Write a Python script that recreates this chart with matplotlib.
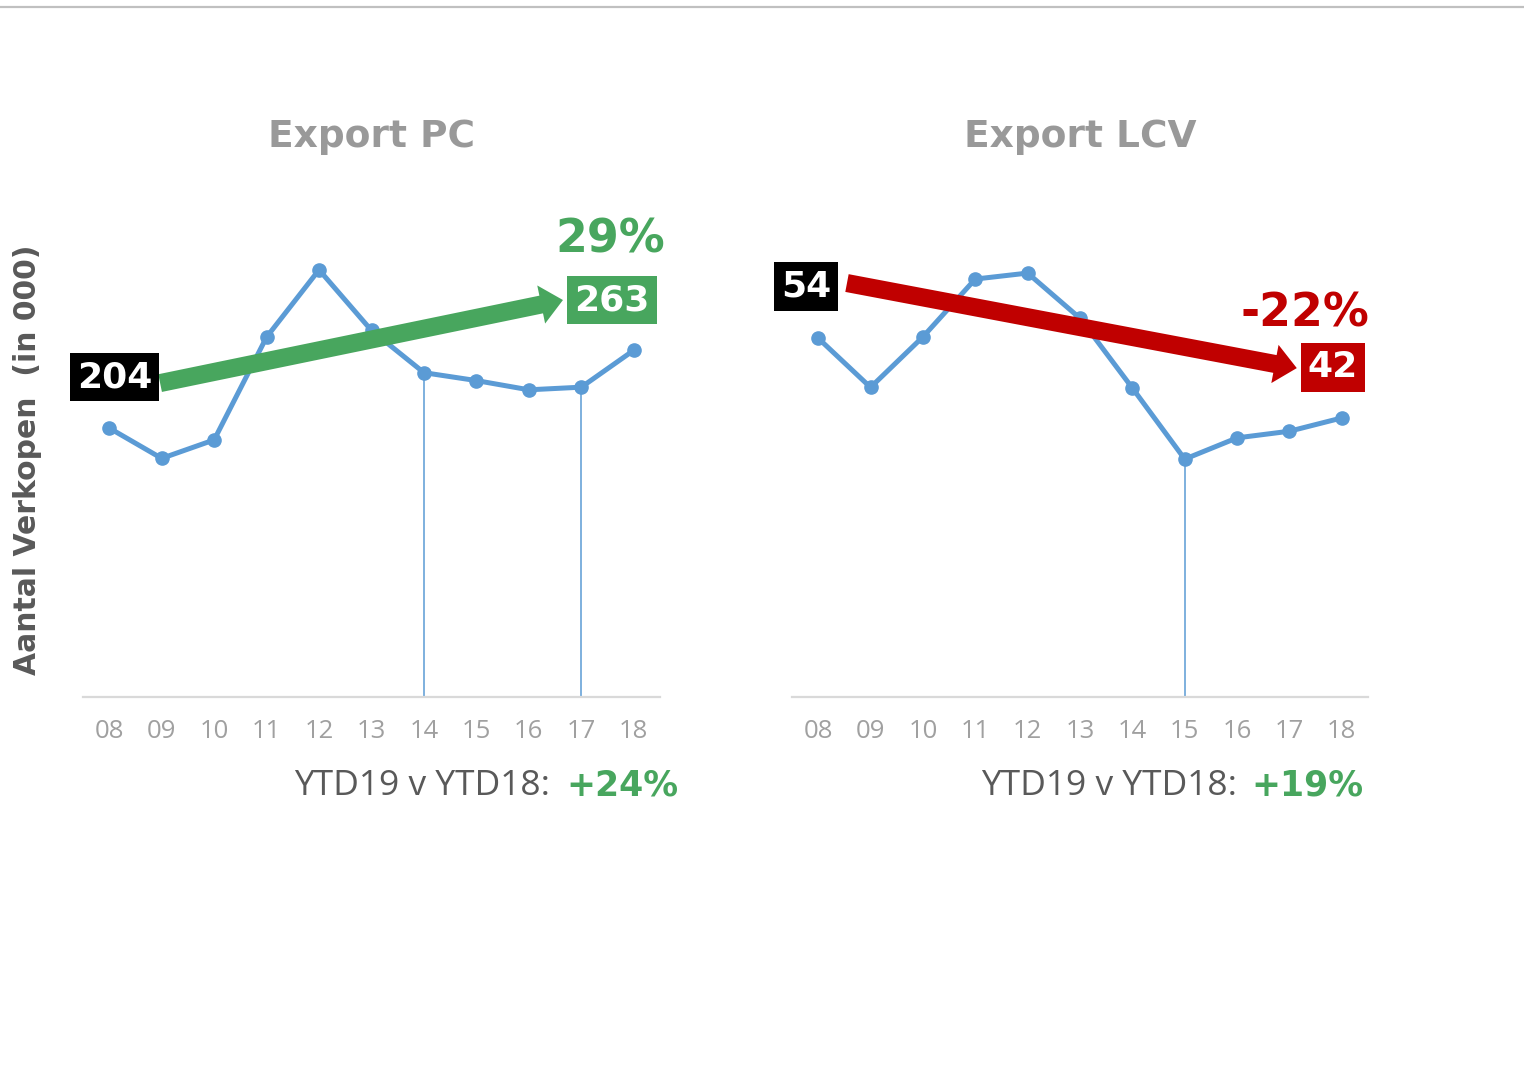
import matplotlib
matplotlib.use('Agg')
import matplotlib.pyplot as plt
from matplotlib.lines import Line2D

# data (values in 000)
years = ['08', '09', '10', '11', '12', '13', '14', '15', '16', '17', '18']
pc_sales = [204, 181, 195, 273, 324, 278, 246, 240, 233, 235, 263]
lcv_sales = [54, 46.6, 54.2, 62.9, 63.8, 57, 46.5, 35.8, 39, 40, 42]
pc_drop_years = ['14', '17']
lcv_drop_years = ['15']
titles = ['Export PC', 'Export LCV']
ytd_change = ['+24%', '+19%']

W, H = 1524, 1069
BLUE = '#5b9bd5'
GREEN = '#48a65e'
RED = '#c00000'
TITLE_GRAY = '#999999'
TICK_GRAY = '#a0a0a0'
TEXT_GRAY = '#595959'

fig = plt.figure(figsize=(W / 100, H / 100), dpi=100)


def fx(px):
    return px / W


def fy(py):
    return (H - py) / H


# top border line
fig.add_artist(Line2D([0, 1], [fy(6.5), fy(6.5)], transform=fig.transFigure,
                      color='#c0c0c0', lw=1.6))

ax_h = 501 / H
ax_pc = fig.add_axes([fx(83), fy(697), fx(660) - fx(83), ax_h])
ax_lcv = fig.add_axes([fx(792), fy(697), fx(1368) - fx(792), ax_h])


def draw_panel(ax, values, drops, ytop):
    x = list(range(len(years)))
    ax.plot(x, values, color=BLUE, lw=3.6, marker='o', ms=9.5, zorder=3,
            solid_joinstyle='round')
    for d in drops:
        i = years.index(d)
        ax.vlines(i, 0, values[i], color=BLUE, lw=1.1, zorder=2)
    ax.set_xlim(-0.5, len(years) - 0.5)
    ax.set_ylim(0, ytop)
    ax.set_xticks(x)
    ax.set_xticklabels(years, fontfamily='Open Sans', fontsize=18.5, color=TICK_GRAY)
    ax.tick_params(axis='x', length=0, pad=16)
    ax.set_yticks([])
    for s in ['left', 'right', 'top']:
        ax.spines[s].set_visible(False)
    ax.spines['bottom'].set_color('#d9d9d9')
    ax.spines['bottom'].set_linewidth(1.6)
    ax.patch.set_alpha(0)


draw_panel(ax_pc, pc_sales, pc_drop_years, 380)
draw_panel(ax_lcv, lcv_sales, lcv_drop_years, 75.4)


def trend(ax, values, start_lab, end_lab, pct_pos, arrow_from, arrow_to, color):
    v0, v1 = values[0], values[-1]
    pct = round((v1 / v0 - 1) * 100)
    ax.text(*start_lab, f'{v0:.0f}', ha='center', va='center', color='white',
            fontsize=26, fontweight='bold', zorder=5, clip_on=False,
            bbox=dict(boxstyle='square,pad=0.2', fc='black', ec='none'))
    ax.text(*end_lab, f'{v1:.0f}', ha='center', va='center', color='white',
            fontsize=26, fontweight='bold', zorder=5, clip_on=False,
            bbox=dict(boxstyle='square,pad=0.2', fc=color, ec='none'))
    ax.text(*pct_pos, f'{pct}%', ha='center', va='center', color=color,
            fontsize=33, fontweight='bold', zorder=5, clip_on=False)
    ax.annotate('', xy=arrow_to, xytext=arrow_from, zorder=4,
                arrowprops=dict(arrowstyle='simple,head_length=0.8,head_width=1.4,tail_width=0.65',
                                fc=color, ec='none', shrinkA=0, shrinkB=0,
                                mutation_scale=20), annotation_clip=False)


trend(ax_pc, pc_sales, (0.1, 242.7), (9.58, 301), (9.56, 346.6),
      (0.97, 238.1), (8.65, 301.1), GREEN)
trend(ax_lcv, lcv_sales, (-0.23, 61.8), (9.83, 49.6), (9.29, 57.6),
      (0.55, 62.3), (9.14, 49.5), RED)

# titles
for ax, t in zip([ax_pc, ax_lcv], titles):
    b = ax.get_position()
    fig.text((b.x0 + b.x1) / 2, fy(137), t, ha='center', va='center',
             fontsize=27, fontweight='bold', color=TITLE_GRAY)

# year-to-date comparison under each panel
for (gx, cx), ch in zip([(550, 566), (1237, 1251)], ytd_change):
    fig.text(fx(gx), fy(786), 'YTD19 v YTD18:', ha='right', va='center',
             fontfamily='Open Sans', fontsize=25.5, color=TEXT_GRAY)
    fig.text(fx(cx), fy(786), ch, ha='left', va='center',
             fontsize=25, fontweight='bold', color=GREEN)

fig.text(fx(28), fy(460), 'Aantal Verkopen  (in 000)', rotation=90,
         ha='center', va='center', fontsize=21.5, fontweight='bold', color=TEXT_GRAY)

fig.savefig('out.png', dpi=100, facecolor='white')
